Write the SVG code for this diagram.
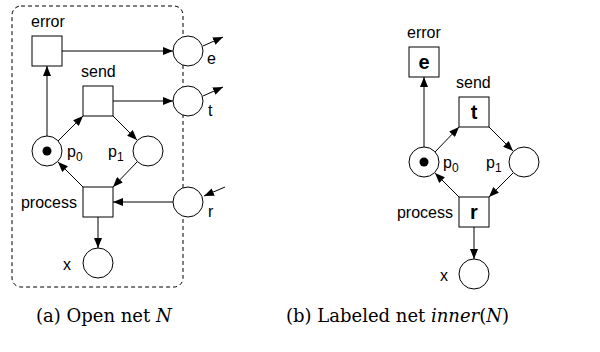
<svg xmlns="http://www.w3.org/2000/svg" width="600" height="352" viewBox="0 0 600 352">
<defs>
<marker id="ah" viewBox="0 0 10 8" refX="10" refY="4" markerWidth="10" markerHeight="8" markerUnits="userSpaceOnUse" orient="auto">
<path d="M0,0 L10,4 L0,8 z" fill="#000"/>
</marker>
</defs>
<style>
.t{fill:#fff;stroke:#000;stroke-width:1}
.p{fill:#fff;stroke:#000;stroke-width:1}
.a{stroke:#000;stroke-width:1;fill:none;marker-end:url(#ah)}
.l{font-family:"Liberation Sans",Arial,sans-serif;font-size:16px;fill:#000}
.sub{font-size:12px}
.b{font-family:"Liberation Sans",Arial,sans-serif;font-size:20px;font-weight:bold;text-anchor:middle;fill:#000}
.cap{font-family:"DejaVu Serif",serif;font-size:18px;fill:#000}
</style>
<rect x="12" y="6" width="171" height="281" rx="9" fill="none" stroke="#000" stroke-width="1" stroke-dasharray="4,3"/>
<g id="connectors">
<line class="a" x1="62" y1="51" x2="173" y2="51"/>
<line class="a" x1="203" y1="46" x2="223" y2="37"/>
<line class="a" x1="113" y1="101" x2="173" y2="101"/>
<line class="a" x1="203" y1="96" x2="223" y2="87"/>
<line class="a" x1="47" y1="136" x2="47" y2="66"/>
<line class="a" x1="58" y1="141" x2="83" y2="116"/>
<line class="a" x1="113" y1="116" x2="137" y2="140"/>
<line class="a" x1="83" y1="187" x2="58" y2="162"/>
<line class="a" x1="137" y1="162" x2="113" y2="187"/>
<line class="a" x1="173" y1="202" x2="113" y2="202"/>
<line class="a" x1="225" y1="187" x2="204" y2="196"/>
<line class="a" x1="98" y1="217" x2="98" y2="248"/>
<line class="a" x1="424" y1="147" x2="424" y2="77"/>
<line class="a" x1="435" y1="152" x2="459" y2="127"/>
<line class="a" x1="489" y1="127" x2="513" y2="151"/>
<line class="a" x1="459" y1="197" x2="435" y2="173"/>
<line class="a" x1="513" y1="173" x2="489" y2="197"/>
<line class="a" x1="474" y1="227" x2="474" y2="259"/>
</g>
<g id="a-error"><rect class="t" x="32" y="36" width="30" height="30"/><text class="l" x="31" y="27">error</text></g>
<g id="a-send"><rect class="t" x="83" y="86" width="30" height="30"/><text class="l" x="81" y="77">send</text></g>
<g id="a-process"><rect class="t" x="83" y="187" width="30" height="30"/><text class="l" x="77" y="208" text-anchor="end">process</text></g>
<g id="a-e"><circle class="p" cx="188" cy="51" r="15"/><text class="l" x="207" y="64">e</text></g>
<g id="a-t"><circle class="p" cx="188" cy="101" r="15"/><text class="l" x="208" y="116">t</text></g>
<g id="a-r"><circle class="p" cx="188" cy="202" r="15"/><text class="l" x="208" y="217">r</text></g>
<g id="a-p0"><circle class="p" cx="47" cy="151" r="15"/><circle cx="47" cy="151" r="4.5" fill="#000"/><text class="l" x="67" y="157">p<tspan class="sub" dy="4">0</tspan></text></g>
<g id="a-p1"><circle class="p" cx="148" cy="151" r="15"/><text class="l" x="108" y="157">p<tspan class="sub" dy="4">1</tspan></text></g>
<g id="a-x"><circle class="p" cx="98" cy="263" r="15"/><text class="l" x="63" y="270">x</text></g>
<g id="b-error"><rect class="t" x="409" y="47" width="30" height="30"/><text class="l" x="407" y="38">error</text><text class="b" x="424" y="69">e</text></g>
<g id="b-send"><rect class="t" x="459" y="97" width="30" height="30"/><text class="l" x="456" y="88">send</text><text class="b" x="474" y="119">t</text></g>
<g id="b-process"><rect class="t" x="459" y="197" width="30" height="30"/><text class="l" x="453" y="218" text-anchor="end">process</text><text class="b" x="474" y="219">r</text></g>
<g id="b-p0"><circle class="p" cx="424" cy="162" r="15"/><circle cx="424" cy="162" r="4.5" fill="#000"/><text class="l" x="443" y="168">p<tspan class="sub" dy="4">0</tspan></text></g>
<g id="b-p1"><circle class="p" cx="524" cy="162" r="15"/><text class="l" x="486" y="168">p<tspan class="sub" dy="4">1</tspan></text></g>
<g id="b-x"><circle class="p" cx="474" cy="274" r="15"/><text class="l" x="440" y="281">x</text></g>
<text class="cap" x="36" y="322">(a) Open net <tspan font-style="italic">N</tspan></text>
<text class="cap" x="286" y="322">(b) Labeled net <tspan font-style="italic">inner</tspan>(<tspan font-style="italic">N</tspan>)</text>
</svg>
